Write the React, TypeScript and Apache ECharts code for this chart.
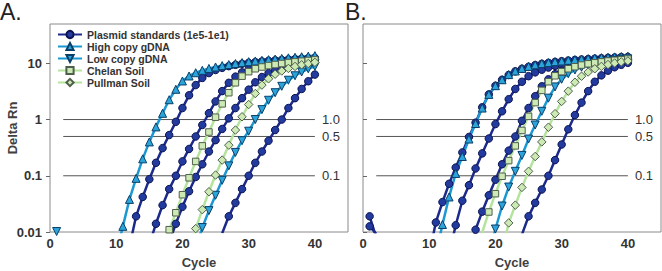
import React, { useEffect, useRef } from 'react';
import * as echarts from 'echarts';

const N = null;
const cycles = [
  1, 2, 3, 4, 5, 6, 7, 8, 9, 10,
  11, 12, 13, 14, 15, 16, 17, 18, 19, 20,
  21, 22, 23, 24, 25, 26, 27, 28, 29, 30,
  31, 32, 33, 34, 35, 36, 37, 38, 39, 40,
];

// ---------- Panel A ----------
const plasA1 = [
  N, N, N, N, N, N, N, N, N, N,
  N, 0.0055, 0.019, 0.042, 0.087, 0.17, 0.31, 0.53, 0.91, 1.6,
  2.7, 4.1, 5.5, 6.7, 7.6, 8.3, 8.9, 9.4, 9.8, 10.2,
  10.5, 10.8, 11.1, 11.3, 11.5, 11.7, 11.9, 12.1, 12.3, 12.5,
];
const plasA2 = [
  N, N, N, N, N, N, N, N, N, N,
  N, N, N, N, 0.006, 0.014, 0.03, 0.058, 0.1, 0.18,
  0.3, 0.5, 0.8, 1.3, 2.1, 3.2, 4.5, 5.8, 6.9, 7.8,
  8.5, 9.1, 9.6, 10.0, 10.4, 10.7, 11.0, 11.3, 11.5, 11.7,
];
const plasA3 = [
  N, N, N, N, N, N, N, N, N, N,
  N, N, N, N, N, N, N, 0.0065, 0.014, 0.028,
  0.053, 0.095, 0.16, 0.27, 0.43, 0.68, 1.05, 1.6, 2.4, 3.4,
  4.6, 5.7, 6.7, 7.5, 8.2, 8.8, 9.3, 9.7, 10.1, 10.4,
];
const plasA4 = [
  N, N, N, N, N, N, N, N, N, N,
  N, N, N, N, N, N, N, N, N, N,
  N, N, N, N, N, 0.0095, 0.019, 0.033, 0.058, 0.1,
  0.17, 0.27, 0.42, 0.65, 1.0, 1.6, 2.4, 3.5, 4.8, 6.3,
];
const highA = [
  N, N, N, N, N, N, N, N, N, 0.004,
  0.0126, 0.038, 0.09, 0.2, 0.4, 0.74, 1.29, 2.25, 3.45, 4.85,
  5.95, 6.8, 7.5, 8.1, 8.6, 9.1, 9.5, 9.9, 10.3, 10.7,
  11.0, 11.3, 11.6, 11.9, 12.2, 12.5, 12.8, 13.1, 13.4, 13.7,
];
const lowA = [
  0.0102, N, N, N, N, N, N, N, N, N,
  N, N, N, N, N, N, N, N, N, N,
  N, 0.005, 0.012, 0.024, 0.045, 0.083, 0.15, 0.26, 0.42, 0.62,
  1.0, 1.5, 2.2, 3.0, 3.9, 5.0, 6.0, 7.0, 8.0, 8.8,
];
const chelanA = [
  N, N, N, N, N, N, N, N, N, N,
  N, N, N, N, N, N, 0.004, 0.011, 0.022, 0.046,
  0.092, 0.18, 0.34, 0.6, 1.1, 1.9, 3.0, 4.5, 5.9, 7.1,
  8.0, 8.6, 9.1, 9.5, 9.9, 10.3, 10.6, 10.9, 11.2, 11.5,
];
const pullA = [
  N, N, N, N, N, N, N, N, N, N,
  N, N, N, N, N, N, N, N, N, N,
  0.005, 0.0115, 0.025, 0.052, 0.103, 0.19, 0.35, 0.65, 1.12, 1.85,
  2.9, 4.1, 5.3, 6.4, 7.3, 8.1, 8.8, 9.4, 9.9, 10.4,
];

// ---------- Panel B ----------
const plasB1 = [
  N, N, N, N, N, N, N, N, N, 0.004,
  0.0148, 0.034, 0.072, 0.14, 0.26, 0.49, 0.88, 1.65, 2.8, 4.0,
  5.1, 6.2, 7.2, 8.0, 8.7, 9.3, 9.8, 10.2, 10.6, 10.9,
  11.2, 11.5, 11.7, 11.9, 12.1, 12.3, 12.5, 12.7, 12.9, 13.0,
];
const plasB2 = [
  N, N, N, N, N, N, N, N, N, N,
  N, N, 0.004, 0.0132, 0.036, 0.068, 0.135, 0.25, 0.46, 0.83,
  1.4, 2.3, 3.5, 4.7, 5.9, 6.9, 7.7, 8.4, 9.0, 9.5,
  9.9, 10.3, 10.6, 10.9, 11.2, 11.4, 11.6, 11.8, 12.0, 12.2,
];
const plasB3 = [
  0.0126, 0.0093, N, N, N, N, N, N, N, N,
  N, N, N, N, N, 0.004, 0.011, 0.023, 0.045, 0.085,
  0.16, 0.28, 0.5, 0.95, 1.6, 2.6, 3.9, 5.2, 6.4, 7.4,
  8.2, 8.9, 9.4, 9.9, 10.3, 10.6, 10.9, 11.2, 11.4, 11.6,
];
const plasB4 = [
  0.019, 0.008, N, N, N, N, N, N, N, N,
  N, N, N, N, N, N, N, N, N, N,
  N, N, N, 0.009, 0.019, 0.033, 0.057, 0.1, 0.19, 0.36,
  0.67, 1.2, 2.0, 3.2, 4.7, 6.1, 7.4, 8.5, 9.4, 10.2,
];
const highB = [
  N, N, N, N, N, N, N, N, N, N,
  0.004, 0.0136, 0.042, 0.11, 0.22, 0.45, 0.85, 1.6, 2.8, 4.0,
  5.1, 6.3, 7.3, 8.1, 8.8, 9.4, 9.9, 10.3, 10.7, 11.0,
  11.3, 11.6, 11.9, 12.1, 12.4, 12.6, 12.8, 13.0, 13.2, 13.4,
];
const lowB = [
  N, N, N, N, N, N, N, N, N, N,
  N, N, N, N, N, N, N, N, 0.004, 0.0113,
  0.029, 0.063, 0.12, 0.23, 0.45, 0.8, 1.4, 2.4, 3.8, 5.2,
  6.5, 7.6, 8.5, 9.2, 9.8, 10.3, 10.8, 11.2, 11.6, 12.0,
];
const chelanB = [
  N, N, N, N, N, N, N, N, N, N,
  N, N, N, N, N, N, 0.004, 0.0098, 0.0227, 0.048,
  0.098, 0.186, 0.34, 0.64, 1.14, 2.0, 3.3, 4.7, 6.0, 7.1,
  8.0, 8.7, 9.3, 9.8, 10.2, 10.6, 11.0, 11.3, 11.6, 11.9,
];
const pullB = [
  N, N, N, N, N, N, N, N, N, N,
  N, N, N, N, N, N, N, N, N, N,
  0.0045, 0.0145, 0.03, 0.062, 0.12, 0.22, 0.4, 0.73, 1.27, 2.1,
  3.2, 4.6, 5.9, 7.0, 8.0, 8.8, 9.5, 10.1, 10.6, 11.0,
];

const thresholds = [1, 0.5, 0.1];
const thresholdLabels = ['1.0', '0.5', '0.1'];
const thresholdStart = 2;
const thresholdEnd = 40;
const xTicks = [0, 10, 20, 30, 40];
const yTicks = [0.01, 0.1, 1, 10];

const NAMES = [
  'Plasmid standards (1e5-1e1)',
  'High copy gDNA',
  'Low copy gDNA',
  'Chelan Soil',
  'Pullman Soil',
];

const FONT = 'Liberation Sans, Arial, Helvetica, sans-serif';

const STYLE: Record<string, any> = {
  plasmid: { symbol: 'circle', size: 7.5, line: '#1c2a8c', fill: '#233a9e', border: '#0c1552', width: 2.5 },
  high: { symbol: 'triangle', size: 8, line: '#1b98d2', fill: '#2aa4da', border: '#0b3f68', width: 2.5 },
  low: { symbol: 'path://M0,0 L10,0 L5,9 Z', size: 8, line: '#1b98d2', fill: '#2aa4da', border: '#0b3f68', width: 2.5 },
  chelan: { symbol: 'rect', size: 6.5, line: '#b4e49c', fill: '#cdeab5', border: '#4f5f4d', width: 2.5 },
  pull: { symbol: 'diamond', size: 8.5, line: '#b4e49c', fill: '#cdeab5', border: '#4f5f4d', width: 2.5 },
};

function curve(name: string, values: (number | null)[], kind: string, grid: number) {
  const s = STYLE[kind];
  return {
    type: 'line',
    name,
    xAxisIndex: grid,
    yAxisIndex: grid,
    data: cycles.map((c, i) => (values[i] == null ? [c, '-'] : [c, values[i]])),
    symbol: s.symbol,
    symbolSize: s.size,
    showSymbol: true,
    showAllSymbol: true,
    connectNulls: false,
    clip: true,
    silent: true,
    z: 3,
    lineStyle: { color: s.line, width: s.width },
    itemStyle: { color: s.fill, borderColor: s.border, borderWidth: 1 },
  };
}

function thresholdSeries(grid: number) {
  return thresholds.map((t, i) => ({
    type: 'line',
    name: 'thr' + grid + '-' + i,
    xAxisIndex: grid,
    yAxisIndex: grid,
    data: [
      [thresholdStart, t],
      [thresholdEnd, t],
    ],
    symbol: 'none',
    silent: true,
    z: 1,
    lineStyle: { color: '#555555', width: 1 },
    endLabel: {
      show: true,
      formatter: thresholdLabels[i],
      distance: 7,
      color: '#333333',
      fontSize: 13,
      fontFamily: FONT,
    },
  }));
}

function xAxis(grid: number) {
  return {
    type: 'value',
    gridIndex: grid,
    min: 0,
    max: 45,
    interval: 10,
    name: 'Cycle',
    nameLocation: 'middle',
    nameGap: 24,
    nameMoveOverlap: false,
    nameTextStyle: { fontSize: 13, fontWeight: 'bold', color: '#404040', fontFamily: FONT },
    axisLine: { show: false },
    axisTick: { show: false },
    splitLine: { show: false },
    axisLabel: {
      customValues: xTicks,
      fontSize: 13,
      fontWeight: 'bold',
      color: '#333333',
      fontFamily: FONT,
      margin: 5,
    },
  };
}

function yAxis(grid: number, labels: boolean) {
  return {
    type: 'log',
    logBase: 10,
    gridIndex: grid,
    min: 0.01,
    max: 50,
    name: labels ? 'Delta Rn' : '',
    nameLocation: 'middle',
    nameGap: 31,
    nameMoveOverlap: false,
    nameTextStyle: { fontSize: 13, fontWeight: 'bold', color: '#404040', fontFamily: FONT },
    axisLine: { show: false },
    splitLine: { show: false },
    axisTick: {
      show: true,
      inside: !labels,
      length: 4,
      customValues: yTicks,
      lineStyle: { color: '#666666' },
    },
    axisLabel: {
      show: labels,
      customValues: yTicks,
      formatter: (v: number) => String(+Number(v).toPrecision(3)),
      fontSize: 13,
      fontWeight: 'bold',
      color: '#333333',
      fontFamily: FONT,
      margin: 8,
    },
  };
}

export default function App() {
  const ref = useRef<HTMLDivElement>(null);
  useEffect(() => {
    if (!ref.current) return;
    const chart = echarts.init(ref.current, null, { renderer: 'svg' });
    const series: any[] = [
      ...thresholdSeries(0),
      ...thresholdSeries(1),
      curve(NAMES[0], plasA1, 'plasmid', 0),
      curve(NAMES[0], plasA2, 'plasmid', 0),
      curve(NAMES[0], plasA3, 'plasmid', 0),
      curve(NAMES[0], plasA4, 'plasmid', 0),
      curve(NAMES[1], highA, 'high', 0),
      curve(NAMES[2], lowA, 'low', 0),
      curve(NAMES[3], chelanA, 'chelan', 0),
      curve(NAMES[4], pullA, 'pull', 0),
      curve(NAMES[0], plasB1, 'plasmid', 1),
      curve(NAMES[0], plasB2, 'plasmid', 1),
      curve(NAMES[0], plasB3, 'plasmid', 1),
      curve(NAMES[0], plasB4, 'plasmid', 1),
      curve(NAMES[1], highB, 'high', 1),
      curve(NAMES[2], lowB, 'low', 1),
      curve(NAMES[3], chelanB, 'chelan', 1),
      curve(NAMES[4], pullB, 'pull', 1),
    ];
    const gridBase = {
      top: 24,
      width: 298,
      height: 208,
      show: true,
      borderColor: '#8a8a8a',
      borderWidth: 1,
      backgroundColor: 'transparent',
      containLabel: false,
      outerBoundsMode: 'none',
    };
    chart.setOption({
      animation: false,
      backgroundColor: '#ffffff',
      grid: [
        { ...gridBase, left: 50 },
        { ...gridBase, left: 363 },
      ],
      xAxis: [xAxis(0), xAxis(1)],
      yAxis: [yAxis(0, true), yAxis(1, false)],
      legend: {
        data: NAMES,
        orient: 'vertical',
        left: 57,
        top: 29,
        padding: 0,
        itemGap: 1,
        itemWidth: 24,
        itemHeight: 9,
        selectedMode: false,
        textStyle: { fontSize: 10.5, fontWeight: 'bold', color: '#333333', fontFamily: FONT, lineHeight: 11 },
      },
      graphic: [
        { type: 'text', left: 0, top: 0, style: { text: 'A.', font: '23px ' + FONT, fill: '#222222' } },
        { type: 'text', left: 345, top: 0, style: { text: 'B.', font: '23px ' + FONT, fill: '#222222' } },
      ],
      series,
    });
    return () => chart.dispose();
  }, []);
  return <div ref={ref} style={{ position: 'absolute', left: 0, top: 0, width: 662, height: 271 }} />;
}
